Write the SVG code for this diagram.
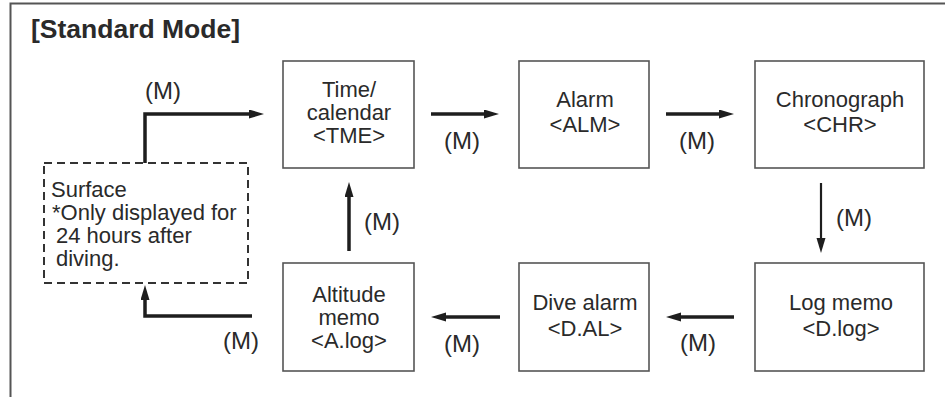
<svg xmlns="http://www.w3.org/2000/svg" width="945" height="397" viewBox="0 0 945 397">
<defs>
<style>
.box{fill:#fff;stroke:#555;stroke-width:1.6}
.dash{fill:#fff;stroke:#333;stroke-width:2;stroke-dasharray:8 5}
.t{font-family:"Liberation Sans",Arial,sans-serif;font-size:22px;fill:#2a2a2a;text-anchor:middle}
.tl{font-family:"Liberation Sans",Arial,sans-serif;font-size:22px;fill:#2a2a2a}
.m{font-family:"Liberation Sans",Arial,sans-serif;font-size:24px;fill:#2a2a2a;text-anchor:middle}
.c{fill:none;stroke:#1e1e1e;stroke-width:3.5;marker-end:url(#ah)}
.thin{stroke-width:2.2}
</style>
<marker id="ah" markerUnits="userSpaceOnUse" markerWidth="16" markerHeight="10" refX="4" refY="4.5" orient="auto">
<path d="M0,0 L15,4.5 L0,9 z" fill="#1e1e1e"/>
</marker>
</defs>
<rect width="945" height="397" fill="#fff"/>
<path d="M10.5,397 V3.5 H945" fill="none" stroke="#555" stroke-width="2"/>
<text x="31" y="38" font-family="Liberation Sans,Arial,sans-serif" font-size="26.5" font-weight="bold" fill="#2a2a2a">[Standard Mode]</text>

<g id="surface">
<rect class="dash" x="44" y="163" width="204" height="120"/>
<text class="tl" x="51" y="197">Surface</text>
<text class="tl" x="52" y="220">*Only displayed for</text>
<text class="tl" x="56" y="243">24 hours after</text>
<text class="tl" x="56" y="266">diving.</text>
</g>
<g id="time">
<rect class="box" x="283" y="61" width="131" height="107"/>
<text class="t" x="349" y="97">Time/</text>
<text class="t" x="349" y="120">calendar</text>
<text class="t" x="349" y="143">&lt;TME&gt;</text>
</g>
<g id="alarm">
<rect class="box" x="519" y="61" width="130" height="107"/>
<text class="t" x="585" y="107">Alarm</text>
<text class="t" x="585" y="132">&lt;ALM&gt;</text>
</g>
<g id="chrono">
<rect class="box" x="755" y="61" width="169" height="107"/>
<text class="t" x="840" y="107">Chronograph</text>
<text class="t" x="840" y="132">&lt;CHR&gt;</text>
</g>
<g id="altitude">
<rect class="box" x="283" y="263" width="131" height="108"/>
<text class="t" x="349" y="302">Altitude</text>
<text class="t" x="349" y="325">memo</text>
<text class="t" x="349" y="348">&lt;A.log&gt;</text>
</g>
<g id="divealarm">
<rect class="box" x="519" y="263" width="130" height="108"/>
<text class="t" x="585" y="310">Dive alarm</text>
<text class="t" x="585" y="336">&lt;D.AL&gt;</text>
</g>
<g id="logmemo">
<rect class="box" x="755" y="263" width="169" height="108"/>
<text class="t" x="841" y="310">Log memo</text>
<text class="t" x="841" y="336">&lt;D.log&gt;</text>
</g>

<g id="connectors">
<path class="c" d="M145,163 V114 H253"/>
<path class="c" d="M431,114 H488"/>
<path class="c" d="M666,114 H723"/>
<path class="c thin" d="M821,183 V242"/>
<path class="c" d="M734,317 H677"/>
<path class="c" d="M500,317 H442"/>
<path class="c" d="M349,251 V193"/>
<path class="c" d="M252,316 H145 V296"/>
<text class="m" x="163" y="99">(M)</text>
<text class="m" x="462" y="149">(M)</text>
<text class="m" x="697" y="149">(M)</text>
<text class="m" x="854" y="226">(M)</text>
<text class="m" x="382" y="230">(M)</text>
<text class="m" x="462" y="352">(M)</text>
<text class="m" x="698" y="351">(M)</text>
<text class="m" x="241" y="349">(M)</text>
</g>
</svg>
